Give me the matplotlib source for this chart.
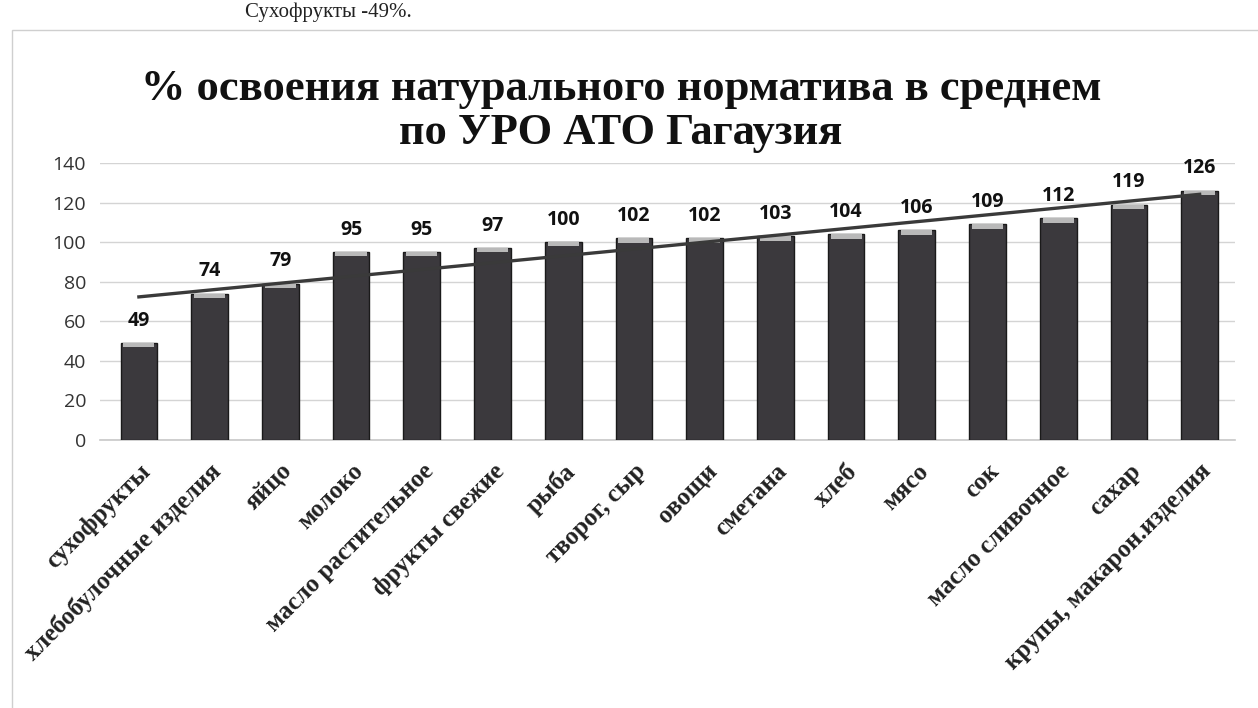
import numpy as np
import matplotlib
matplotlib.use("Agg")
import matplotlib.pyplot as plt
from matplotlib.patches import Rectangle

categories = ["сухофрукты", "хлебобулочные изделия", "яйцо", "молоко",
              "масло растительное", "фрукты свежие", "рыба", "творог, сыр",
              "овощи", "сметана", "хлеб", "мясо", "сок", "масло сливочное",
              "сахар", "крупы, макарон.изделия"]
values = [49, 74, 79, 95, 95, 97, 100, 102, 102, 103, 104, 106, 109, 112, 119, 126]
yticks = [0, 20, 40, 60, 80, 100, 120, 140]
title = "% освоения натурального норматива в среднем\nпо УРО АТО Гагаузия"
top_text = "Сухофрукты -49%."

W, H = 1258, 708
fig = plt.figure(figsize=(W / 100, H / 100), dpi=100)
fig.patch.set_facecolor("white")

# chart frame
fig.patches.append(Rectangle((12 / W, -0.01), 1.0, 1 - 30 / H + 0.01,
                             transform=fig.transFigure, fill=False,
                             edgecolor="#cfcfcf", linewidth=1.0))

# text from the document above the chart
fig.text(245 / W, 1 - 17 / H, top_text, family="Liberation Serif",
         fontsize=15, va="baseline", ha="left", color="#222222")

ax = fig.add_axes([100 / W, 1 - 440 / H, (1235 - 100) / W, (440 - 163) / H])
x = np.arange(len(values))
vals = np.array(values, dtype=float)

ax.bar(x, vals, width=0.52, color="#3b393d", edgecolor="#1a1a1a",
       linewidth=1.0, zorder=3)
# lighter caps on the cylinders
ax.bar(x, np.full_like(vals, 2.2), bottom=vals - 2.2, width=0.44,
       color="#b9b9b9", edgecolor="none", zorder=4)

# linear trendline
k, b = np.polyfit(x, vals, 1)
ax.plot(x, k * x + b, color="#3a3a3a", linewidth=2.4, zorder=5)

for xi, v in zip(x, values):
    ax.annotate(str(v), (xi, v), xytext=(0, 9), textcoords="offset points",
                ha="center", va="bottom", fontsize=14, fontweight="bold",
                family="Open Sans", color="#111111", zorder=6)

ax.set_xlim(-0.55, 15.5)
ax.set_ylim(0, 140)
ax.set_yticks(yticks)
ax.set_yticklabels([str(t) for t in yticks], family="Open Sans",
                   fontsize=14, color="#333333")
ax.tick_params(axis="y", length=0, pad=10)
ax.set_xticks(x)
ax.set_xticklabels(categories, rotation=45, ha="right", va="top",
                   rotation_mode="anchor", family="Liberation Serif",
                   fontweight="bold", fontsize=18, color="#222222")
ax.tick_params(axis="x", length=0, pad=14)
ax.grid(axis="y", color="#d4d4d4", linewidth=1.0, zorder=0)
for s in ["top", "right", "left"]:
    ax.spines[s].set_visible(False)
ax.spines["bottom"].set_color("#c8c8c8")
ax.spines["bottom"].set_linewidth(1.2)

fig.text(621 / W, 1 - 111 / H, title, ha="center", va="center",
         family="Liberation Serif", fontweight="bold", fontsize=32,
         color="#111111", linespacing=1.12)

fig.savefig("out.png", dpi=100, facecolor="white")
